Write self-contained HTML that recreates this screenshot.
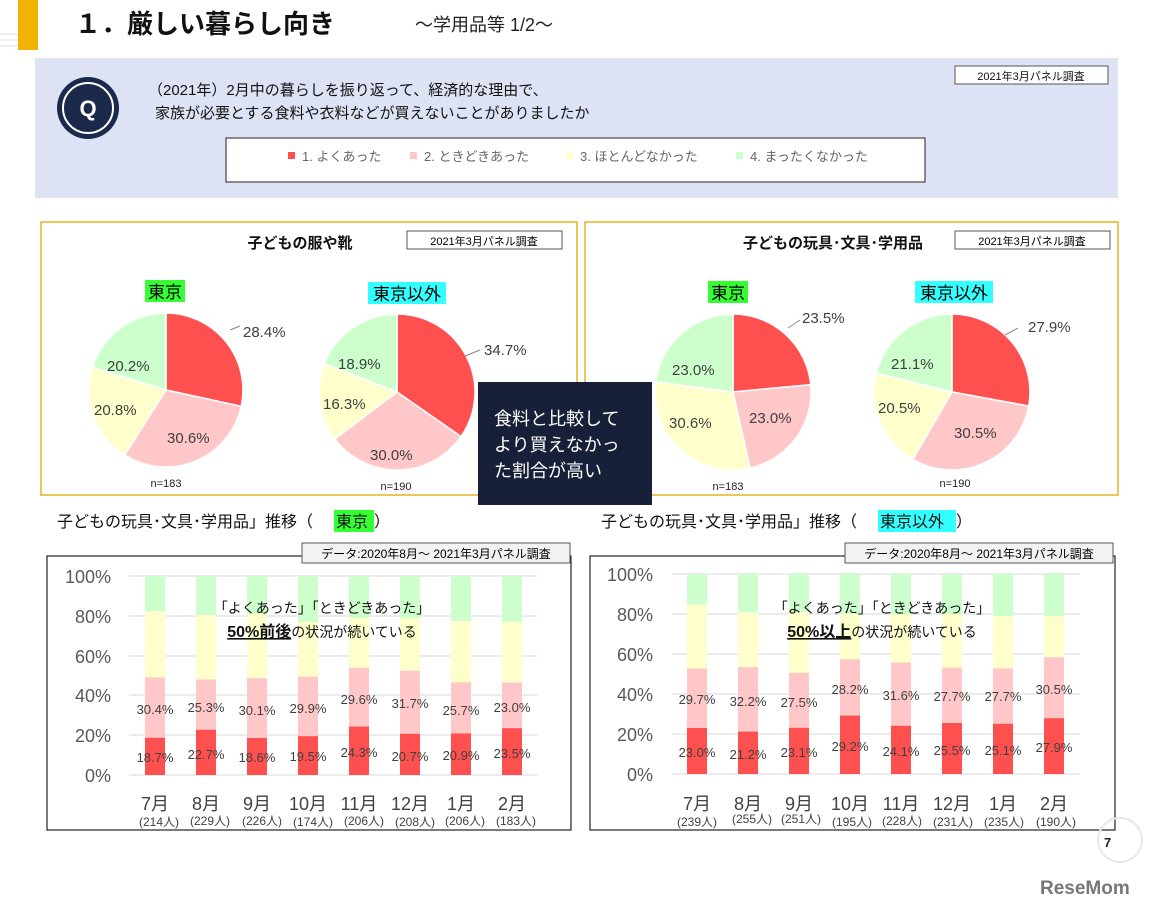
<!DOCTYPE html>
<html><head><meta charset="utf-8"><style>
body{margin:0;background:#fff}
svg{display:block;font-family:"Liberation Sans","Noto Sans CJK JP",sans-serif}
</style></head><body>
<svg width="1152" height="910" viewBox="0 0 1152 910" xmlns="http://www.w3.org/2000/svg">
<rect x="18" y="0" width="20" height="50" fill="#f0b400"/>
<g stroke="#e0e0e0" stroke-width="1"><line x1="0" y1="34" x2="18" y2="34"/><line x1="0" y1="40" x2="18" y2="40"/><line x1="0" y1="46" x2="18" y2="46"/></g>
<text x="75" y="33" font-size="26" font-weight="bold" fill="#111">１．厳しい暮らし向き</text>
<text x="415" y="31" font-size="18" fill="#222">～学用品等 1/2～</text>
<rect x="35" y="58" width="1083" height="140" fill="#dde3f4"/>
<circle cx="88" cy="108" r="31" fill="#1b2a4a"/>
<circle cx="88" cy="108" r="25" fill="none" stroke="#fff" stroke-width="2"/>
<text x="88" y="116" font-size="22" font-weight="bold" fill="#fff" text-anchor="middle">Q</text>
<text x="148" y="95" font-size="15" fill="#111">（2021年）2月中の暮らしを振り返って、経済的な理由で、</text>
<text x="155" y="118" font-size="15" fill="#111">家族が必要とする食料や衣料などが買えないことがありましたか</text>
<rect x="955" y="66" width="153" height="18" fill="#fff" stroke="#555"/>
<text x="1031" y="80" font-size="11" text-anchor="middle" fill="#111">2021年3月パネル調査</text>
<rect x="226" y="138" width="699" height="44" fill="#fff" stroke="#222"/>
<g font-size="13" fill="#666">
<rect x="288" y="152" width="7" height="7" fill="#ff5050"/><text x="302" y="161">1. よくあった</text>
<rect x="410" y="152" width="7" height="7" fill="#ffc7c7"/><text x="424" y="161">2. ときどきあった</text>
<rect x="566" y="152" width="7" height="7" fill="#ffffcc"/><text x="580" y="161">3. ほとんどなかった</text>
<rect x="736" y="152" width="7" height="7" fill="#ccffcc"/><text x="750" y="161">4. まったくなかった</text>
</g>
<rect x="41" y="222" width="536" height="273" fill="#fff" stroke="#e6b422" stroke-width="1.5"/>
<rect x="585" y="222" width="533" height="273" fill="#fff" stroke="#e6b422" stroke-width="1.5"/>
<text x="300" y="248" font-size="15" font-weight="bold" text-anchor="middle" fill="#111">子どもの服や靴</text>
<rect x="407" y="231" width="155" height="18" fill="#fff" stroke="#555"/>
<text x="484" y="245" font-size="11" text-anchor="middle">2021年3月パネル調査</text>
<text x="833" y="248" font-size="15" font-weight="bold" text-anchor="middle" fill="#111">子どもの玩具･文具･学用品</text>
<rect x="955" y="231" width="155" height="18" fill="#fff" stroke="#555"/>
<text x="1032" y="245" font-size="11" text-anchor="middle">2021年3月パネル調査</text>
<g font-size="17">
<rect x="145" y="280" width="40" height="22" fill="#33ff33"/><text x="165" y="298" text-anchor="middle">東京</text>
<rect x="368" y="282" width="78" height="22" fill="#33ffff"/><text x="407" y="300" text-anchor="middle">東京以外</text>
<rect x="708" y="281" width="40" height="22" fill="#33ff33"/><text x="728" y="299" text-anchor="middle">東京</text>
<rect x="915" y="281" width="78" height="22" fill="#33ffff"/><text x="954" y="299" text-anchor="middle">東京以外</text>
</g>
<g stroke="#fff" stroke-width="1.5">
<path d="M166,390 L166,313 A77,77 0 0,1 241.2,406.3Z" fill="#ff5050"/>
<path d="M166,390 L241.2,406.3 A77,77 0 0,1 124.7,455Z" fill="#ffc7c7"/>
<path d="M166,390 L124.7,455 A77,77 0 0,1 92.5,367.1Z" fill="#ffffcc"/>
<path d="M166,390 L92.5,367.1 A77,77 0 0,1 166,313Z" fill="#ccffcc"/>
<path d="M397,392 L397,314 A78,78 0 0,1 461,436.6Z" fill="#ff5050"/>
<path d="M397,392 L461,436.6 A78,78 0 0,1 334.8,439Z" fill="#ffc7c7"/>
<path d="M397,392 L334.8,439 A78,78 0 0,1 324.5,363.3Z" fill="#ffffcc"/>
<path d="M397,392 L324.5,363.3 A78,78 0 0,1 397,314Z" fill="#ccffcc"/>
<path d="M733,392 L733,314 A78,78 0 0,1 810.7,384.7Z" fill="#ff5050"/>
<path d="M733,392 L810.7,384.7 A78,78 0 0,1 750,468.1Z" fill="#ffc7c7"/>
<path d="M733,392 L750,468.1 A78,78 0 0,1 655.7,381.7Z" fill="#ffffcc"/>
<path d="M733,392 L655.7,381.7 A78,78 0 0,1 733,314Z" fill="#ccffcc"/>
<path d="M952,392 L952,314 A78,78 0 0,1 1028.7,406.1Z" fill="#ff5050"/>
<path d="M952,392 L1028.7,406.1 A78,78 0 0,1 912.8,459.4Z" fill="#ffc7c7"/>
<path d="M952,392 L912.8,459.4 A78,78 0 0,1 876.3,373.1Z" fill="#ffffcc"/>
<path d="M952,392 L876.3,373.1 A78,78 0 0,1 952,314Z" fill="#ccffcc"/>
</g>
<g stroke="#888" stroke-width="1"><line x1="230" y1="330" x2="240" y2="326"/><line x1="465" y1="356" x2="480" y2="350"/><line x1="788" y1="328" x2="800" y2="320"/><line x1="1005" y1="335" x2="1018" y2="328"/></g>
<g font-size="15" fill="#404040">
<text x="243" y="337">28.4%</text><text x="167" y="443">30.6%</text><text x="94" y="415">20.8%</text><text x="107" y="371">20.2%</text>
<text x="484" y="355">34.7%</text><text x="370" y="460">30.0%</text><text x="323" y="409">16.3%</text><text x="338" y="369">18.9%</text>
<text x="802" y="323">23.5%</text><text x="749" y="423">23.0%</text><text x="669" y="428">30.6%</text><text x="672" y="375">23.0%</text>
<text x="1028" y="332">27.9%</text><text x="954" y="438">30.5%</text><text x="878" y="413">20.5%</text><text x="891" y="369">21.1%</text>
</g>
<g font-size="11" fill="#222" text-anchor="middle">
<text x="166" y="487">n=183</text><text x="396" y="490">n=190</text><text x="728" y="490">n=183</text><text x="955" y="487">n=190</text>
</g>
<rect x="478" y="382" width="174" height="123" fill="#172038"/>
<g font-size="18" fill="#fff"><text x="494" y="425">食料と比較して</text><text x="494" y="451">より買えなかっ</text><text x="494" y="477">た割合が高い</text></g>
<g font-size="16" fill="#111">
<text x="57" y="527">子どもの玩具･文具･学用品」推移（</text><rect x="334" y="510" width="40" height="22" fill="#33ff33"/><text x="336" y="527">東京</text><text x="374" y="527">）</text>
<text x="601" y="527">子どもの玩具･文具･学用品」推移（</text><rect x="878" y="510" width="78" height="22" fill="#33ffff"/><text x="880" y="527">東京以外</text><text x="956" y="527">）</text>
</g>
<rect x="47" y="556" width="524" height="274" fill="#fff" stroke="#222" stroke-width="1.2"/>
<rect x="302" y="543" width="268" height="20" fill="#f2f2f2" stroke="#555"/>
<text x="436" y="558" font-size="12" text-anchor="middle">データ:2020年8月～ 2021年3月パネル調査</text>
<g stroke="#d9d9d9"><line x1="129" x2="537" y1="576" y2="576"/><line x1="129" x2="537" y1="616" y2="616"/><line x1="129" x2="537" y1="656" y2="656"/><line x1="129" x2="537" y1="695" y2="695"/><line x1="129" x2="537" y1="735" y2="735"/><line x1="129" x2="537" y1="775" y2="775"/></g>
<g font-size="18" fill="#595959" text-anchor="end"><text x="111" y="583">100%</text><text x="111" y="623">80%</text><text x="111" y="663">60%</text><text x="111" y="702">40%</text><text x="111" y="742">20%</text><text x="111" y="782">0%</text></g>
<g>
<rect x="145" y="576" width="20" height="199" fill="#ccffcc"/><rect x="145" y="611" width="20" height="164" fill="#ffffcc"/><rect x="145" y="677.3" width="20" height="97.7" fill="#ffc7c7"/><rect x="145" y="737.8" width="20" height="37.2" fill="#ff5050"/>
<rect x="196" y="576" width="20" height="199" fill="#ccffcc"/><rect x="196" y="615" width="20" height="160" fill="#ffffcc"/><rect x="196" y="679.5" width="20" height="95.5" fill="#ffc7c7"/><rect x="196" y="729.8" width="20" height="45.2" fill="#ff5050"/>
<rect x="247" y="576" width="20" height="199" fill="#ccffcc"/><rect x="247" y="613.8" width="20" height="161.2" fill="#ffffcc"/><rect x="247" y="678.1" width="20" height="96.9" fill="#ffc7c7"/><rect x="247" y="738" width="20" height="37" fill="#ff5050"/>
<rect x="298" y="576" width="20" height="199" fill="#ccffcc"/><rect x="298" y="621.8" width="20" height="153.2" fill="#ffffcc"/><rect x="298" y="676.7" width="20" height="98.3" fill="#ffc7c7"/><rect x="298" y="736.2" width="20" height="38.8" fill="#ff5050"/>
<rect x="349" y="576" width="20" height="199" fill="#ccffcc"/><rect x="349" y="617.8" width="20" height="157.2" fill="#ffffcc"/><rect x="349" y="667.7" width="20" height="107.3" fill="#ffc7c7"/><rect x="349" y="726.6" width="20" height="48.4" fill="#ff5050"/>
<rect x="400" y="576" width="20" height="199" fill="#ccffcc"/><rect x="400" y="618.4" width="20" height="156.6" fill="#ffffcc"/><rect x="400" y="670.7" width="20" height="104.3" fill="#ffc7c7"/><rect x="400" y="733.8" width="20" height="41.2" fill="#ff5050"/>
<rect x="451" y="576" width="20" height="199" fill="#ccffcc"/><rect x="451" y="621" width="20" height="154" fill="#ffffcc"/><rect x="451" y="682.3" width="20" height="92.7" fill="#ffc7c7"/><rect x="451" y="733.4" width="20" height="41.6" fill="#ff5050"/>
<rect x="502" y="576" width="20" height="199" fill="#ccffcc"/><rect x="502" y="621.8" width="20" height="153.2" fill="#ffffcc"/><rect x="502" y="682.5" width="20" height="92.5" fill="#ffc7c7"/><rect x="502" y="728.2" width="20" height="46.8" fill="#ff5050"/>
</g>
<g font-size="13" fill="#404040" text-anchor="middle">
<text x="155" y="714">30.4%</text><text x="206" y="712">25.3%</text><text x="257" y="715">30.1%</text><text x="308" y="713">29.9%</text><text x="359" y="704">29.6%</text><text x="410" y="708">31.7%</text><text x="461" y="715">25.7%</text><text x="512" y="712">23.0%</text>
<text x="155" y="762">18.7%</text><text x="206" y="759">22.7%</text><text x="257" y="762">18.6%</text><text x="308" y="761">19.5%</text><text x="359" y="757">24.3%</text><text x="410" y="761">20.7%</text><text x="461" y="760">20.9%</text><text x="512" y="758">23.5%</text>
</g>
<text x="322" y="613" font-size="14" text-anchor="middle" fill="#111">「よくあった」「ときどきあった」</text>
<text x="322" y="637" font-size="14" text-anchor="middle" fill="#111"><tspan font-weight="bold" font-size="16" text-decoration="underline">50%前後</tspan>の状況が続いている</text>
<g font-size="18" fill="#404040" text-anchor="middle"><text x="155" y="810">7月</text><text x="206" y="810">8月</text><text x="257" y="810">9月</text><text x="308" y="810">10月</text><text x="359" y="810">11月</text><text x="410" y="810">12月</text><text x="461" y="810">1月</text><text x="512" y="810">2月</text></g>
<g font-size="12" fill="#404040" text-anchor="middle"><text x="159" y="826">(214人)</text><text x="210" y="825">(229人)</text><text x="262" y="825">(226人)</text><text x="313" y="826">(174人)</text><text x="364" y="825">(206人)</text><text x="415" y="826">(208人)</text><text x="465" y="825">(206人)</text><text x="516" y="825">(183人)</text></g>
<rect x="590" y="556" width="525" height="274" fill="#fff" stroke="#222" stroke-width="1.2"/>
<rect x="845" y="543" width="268" height="20" fill="#f2f2f2" stroke="#555"/>
<text x="979" y="558" font-size="12" text-anchor="middle">データ:2020年8月～ 2021年3月パネル調査</text>
<g stroke="#d9d9d9"><line x1="672" x2="1080" y1="574" y2="574"/><line x1="672" x2="1080" y1="614" y2="614"/><line x1="672" x2="1080" y1="654" y2="654"/><line x1="672" x2="1080" y1="694" y2="694"/><line x1="672" x2="1080" y1="734" y2="734"/><line x1="672" x2="1080" y1="774" y2="774"/></g>
<g font-size="18" fill="#595959" text-anchor="end"><text x="653" y="581">100%</text><text x="653" y="621">80%</text><text x="653" y="661">60%</text><text x="653" y="701">40%</text><text x="653" y="741">20%</text><text x="653" y="781">0%</text></g>
<g>
<rect x="687" y="574" width="20" height="200" fill="#ccffcc"/><rect x="687" y="604.6" width="20" height="169.4" fill="#ffffcc"/><rect x="687" y="668.6" width="20" height="105.4" fill="#ffc7c7"/><rect x="687" y="728" width="20" height="46" fill="#ff5050"/>
<rect x="738" y="574" width="20" height="200" fill="#ccffcc"/><rect x="738" y="612.4" width="20" height="161.6" fill="#ffffcc"/><rect x="738" y="667.2" width="20" height="106.8" fill="#ffc7c7"/><rect x="738" y="731.6" width="20" height="42.4" fill="#ff5050"/>
<rect x="789" y="574" width="20" height="200" fill="#ccffcc"/><rect x="789" y="612" width="20" height="162" fill="#ffffcc"/><rect x="789" y="672.8" width="20" height="101.2" fill="#ffc7c7"/><rect x="789" y="727.8" width="20" height="46.2" fill="#ff5050"/>
<rect x="840" y="574" width="20" height="200" fill="#ccffcc"/><rect x="840" y="614" width="20" height="160" fill="#ffffcc"/><rect x="840" y="659.2" width="20" height="114.8" fill="#ffc7c7"/><rect x="840" y="715.6" width="20" height="58.4" fill="#ff5050"/>
<rect x="891" y="574" width="20" height="200" fill="#ccffcc"/><rect x="891" y="614" width="20" height="160" fill="#ffffcc"/><rect x="891" y="662.6" width="20" height="111.4" fill="#ffc7c7"/><rect x="891" y="725.8" width="20" height="48.2" fill="#ff5050"/>
<rect x="942" y="574" width="20" height="200" fill="#ccffcc"/><rect x="942" y="614" width="20" height="160" fill="#ffffcc"/><rect x="942" y="667.6" width="20" height="106.4" fill="#ffc7c7"/><rect x="942" y="723" width="20" height="51" fill="#ff5050"/>
<rect x="993" y="574" width="20" height="200" fill="#ccffcc"/><rect x="993" y="616" width="20" height="158" fill="#ffffcc"/><rect x="993" y="668.4" width="20" height="105.6" fill="#ffc7c7"/><rect x="993" y="723.8" width="20" height="50.2" fill="#ff5050"/>
<rect x="1044" y="574" width="20" height="200" fill="#ccffcc"/><rect x="1044" y="616" width="20" height="158" fill="#ffffcc"/><rect x="1044" y="657.2" width="20" height="116.8" fill="#ffc7c7"/><rect x="1044" y="718.2" width="20" height="55.8" fill="#ff5050"/>
</g>
<g font-size="13" fill="#404040" text-anchor="middle">
<text x="697" y="704">29.7%</text><text x="748" y="706">32.2%</text><text x="799" y="707">27.5%</text><text x="850" y="694">28.2%</text><text x="901" y="700">31.6%</text><text x="952" y="701">27.7%</text><text x="1003" y="701">27.7%</text><text x="1054" y="694">30.5%</text>
<text x="697" y="757">23.0%</text><text x="748" y="759">21.2%</text><text x="799" y="757">23.1%</text><text x="850" y="751">29.2%</text><text x="901" y="756">24.1%</text><text x="952" y="755">25.5%</text><text x="1003" y="755">25.1%</text><text x="1054" y="752">27.9%</text>
</g>
<text x="882" y="613" font-size="14" text-anchor="middle" fill="#111">「よくあった」「ときどきあった」</text>
<text x="882" y="637" font-size="14" text-anchor="middle" fill="#111"><tspan font-weight="bold" font-size="16" text-decoration="underline">50%以上</tspan>の状況が続いている</text>
<g font-size="18" fill="#404040" text-anchor="middle"><text x="697" y="810">7月</text><text x="748" y="810">8月</text><text x="799" y="810">9月</text><text x="850" y="810">10月</text><text x="901" y="810">11月</text><text x="952" y="810">12月</text><text x="1003" y="810">1月</text><text x="1054" y="810">2月</text></g>
<g font-size="12" fill="#404040" text-anchor="middle"><text x="697" y="826">(239人)</text><text x="752" y="823">(255人)</text><text x="801" y="823">(251人)</text><text x="852" y="826">(195人)</text><text x="902" y="825">(228人)</text><text x="953" y="826">(231人)</text><text x="1004" y="826">(235人)</text><text x="1056" y="826">(190人)</text></g>
<circle cx="1120" cy="840" r="22" fill="none" stroke="#e8e8e8" stroke-width="2"/>
<text x="1104" y="847" font-size="13" font-weight="bold" fill="#222">7</text>
<text x="1040" y="894" font-size="19" font-weight="bold" fill="#777">ReseMom</text>
</svg>
</body></html>
